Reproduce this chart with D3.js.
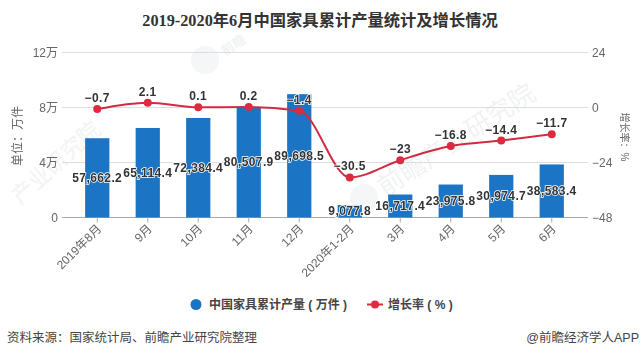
<!DOCTYPE html>
<html>
<head>
<meta charset="utf-8">
<script src="https://cdn.jsdelivr.net/npm/d3@7"></script>
<style>
  html, body { margin: 0; padding: 0; background: #fff; }
  svg { display: block; }
  text { font-family: "Liberation Sans", "Noto Sans CJK SC", sans-serif; }
</style>
</head>
<body>
<div id="chart"></div>
<script>
const months = ["2019年8月", "9月", "10月", "11月", "12月", "2020年1-2月", "3月", "4月", "5月", "6月"];
const output = [57662.2, 65114.4, 72384.4, 80507.9, 89698.5, 9077.8, 16717.4, 23975.8, 30974.7, 38583.4];
const growth = [-0.7, 2.1, 0.1, 0.2, -1.4, -30.5, -23, -16.8, -14.4, -11.7];
const leftTicks = [0, 40000, 80000, 120000];
const leftTickLabels = ["0", "4万", "8万", "12万"];
const rightTicks = [-48, -24, 0, 24];

const blue = "#1b75c4";
const red = "#dc2a3f";
const lineRed = "#cf2c44";
const tickFont = '"Liberation Sans", "Noto Sans CJK SC", sans-serif';

const svg = d3.select("#chart").append("svg").attr("width", 640).attr("height", 357);

const x = d3.scaleBand().domain(months).range([72, 577]).paddingInner(0.52).paddingOuter(0.26);
const yLeft = d3.scaleLinear().domain([0, 120000]).range([217.5, 52.5]);
const yRight = d3.scaleLinear().domain([-48, 24]).range([217.5, 52.5]);
const cx = d => x(d) + x.bandwidth() / 2;

svg.append("text")
  .attr("x", 320).attr("y", 26)
  .attr("text-anchor", "middle")
  .attr("font-size", 16.3).attr("font-weight", "bold").attr("fill", "#333")
  .style("font-family", '"Liberation Serif", "Noto Sans CJK SC", serif')
  .text("2019-2020年6月中国家具累计产量统计及增长情况");

// watermark
const mark = svg.append("g").attr("fill", "#8a97a3").attr("opacity", 0.13);
mark.append("text").attr("transform", "translate(20,205) rotate(-42)")
  .attr("font-size", 22).text("产业研究院");
mark.append("text").attr("transform", "translate(385,197) rotate(-33)")
  .attr("font-size", 26).text("前瞻产业研究院");
mark.append("circle").attr("cx", 205).attr("cy", 60).attr("r", 14).attr("opacity", 0.7);
mark.append("circle").attr("cx", 364).attr("cy", 198).attr("r", 14).attr("opacity", 0.7);
mark.append("text").attr("transform", "translate(225,56) rotate(-33)")
  .attr("font-size", 13).attr("font-weight", "bold").text("前瞻");

// gridlines
svg.append("g").selectAll("line").data(leftTicks).join("line")
  .attr("x1", 62).attr("x2", 588)
  .attr("y1", d => yLeft(d)).attr("y2", d => yLeft(d))
  .attr("stroke", d => d === 0 ? "#aaa" : "#ddd");

const leftAxis = d3.axisLeft(yLeft).tickValues(leftTicks).tickSize(0).tickPadding(0)
  .tickFormat((d, i) => leftTickLabels[i]);
const gLeft = svg.append("g").attr("transform", "translate(58,0)").call(leftAxis);
gLeft.select(".domain").remove();
gLeft.selectAll("text").attr("font-size", 12).attr("fill", "#666")
  .style("font-family", tickFont);

const rightAxis = d3.axisRight(yRight).tickValues(rightTicks).tickSize(0).tickPadding(0);
const gRight = svg.append("g").attr("transform", "translate(592,0)").call(rightAxis);
gRight.select(".domain").remove();
gRight.selectAll("text").attr("font-size", 12).attr("fill", "#666")
  .style("font-family", tickFont);

// bars
svg.append("g").selectAll("rect").data(months).join("rect")
  .attr("x", d => x(d))
  .attr("width", x.bandwidth())
  .attr("y", (d, i) => yLeft(output[i]))
  .attr("height", (d, i) => yLeft(0) - yLeft(output[i]))
  .attr("fill", blue);

// x axis
const xAxis = d3.axisBottom(x).tickSize(5).tickPadding(4);
const gX = svg.append("g").attr("transform", "translate(0,217.5)").call(xAxis);
gX.select(".domain").remove();
gX.selectAll("line").attr("stroke", "#aaa");
gX.selectAll("text")
  .attr("font-size", 12).attr("fill", "#666")
  .attr("text-anchor", "end")
  .attr("transform", "rotate(-45)")
  .attr("x", -5).attr("y", 12).attr("dy", 0)
  .style("font-family", tickFont);

// growth line
const line = d3.line()
  .x((d, i) => cx(months[i]))
  .y(d => yRight(d))
  .curve(d3.curveMonotoneX);
svg.append("path").datum(growth)
  .attr("d", line)
  .attr("fill", "none").attr("stroke", lineRed).attr("stroke-width", 2);
svg.append("g").selectAll("circle").data(growth).join("circle")
  .attr("cx", (d, i) => cx(months[i]))
  .attr("cy", d => yRight(d))
  .attr("r", 4).attr("fill", red);

// data labels
const labelStyle = sel => sel
  .attr("text-anchor", "middle")
  .attr("font-size", 12).attr("font-weight", "bold")
  .attr("fill", "#333")
  .attr("stroke", "#fff").attr("stroke-width", 1.5).attr("paint-order", "stroke")
  .attr("letter-spacing", 0.4);

svg.append("g").selectAll("text").data(output).join("text")
  .call(labelStyle)
  .attr("x", (d, i) => cx(months[i]))
  .attr("y", d => (yLeft(d) + yLeft(0)) / 2 + 4)
  .text(d => d3.format(",.1f")(d));

svg.append("g").selectAll("text").data(growth).join("text")
  .call(labelStyle)
  .attr("x", (d, i) => cx(months[i]))
  .attr("y", d => yRight(d) - 7)
  .text(d => d < 0 ? "−" + Math.abs(d) : d);

// axis titles
svg.append("text").attr("transform", "translate(22,136) rotate(-90)")
  .attr("text-anchor", "middle").attr("font-size", 12).attr("fill", "#666")
  .text("单位：万件");
svg.append("text").attr("transform", "translate(621,137) rotate(90)")
  .attr("text-anchor", "middle").attr("font-size", 10).attr("fill", "#666")
  .text("增长率：%");

// legend
const legend = svg.append("g");
legend.append("circle").attr("cx", 196).attr("cy", 304.5).attr("r", 5.5).attr("fill", blue);
legend.append("text").attr("x", 209).attr("y", 309)
  .attr("font-size", 12).attr("font-weight", "bold").attr("fill", "#444")
  .text("中国家具累计产量 ( 万件 )");
legend.append("line").attr("x1", 367).attr("x2", 383).attr("y1", 304.5).attr("y2", 304.5)
  .attr("stroke", red).attr("stroke-width", 2);
legend.append("circle").attr("cx", 375).attr("cy", 304.5).attr("r", 4).attr("fill", red);
legend.append("text").attr("x", 388).attr("y", 309)
  .attr("font-size", 12).attr("font-weight", "bold").attr("fill", "#444")
  .text("增长率 ( % )");

// footer
svg.append("text").attr("x", 7).attr("y", 342)
  .attr("font-size", 12.5).attr("fill", "#444")
  .text("资料来源：国家统计局、前瞻产业研究院整理");
svg.append("text").attr("x", 639).attr("y", 342)
  .attr("text-anchor", "end").attr("font-size", 12.5).attr("fill", "#444")
  .text("@前瞻经济学人APP");
</script>
</body>
</html>
